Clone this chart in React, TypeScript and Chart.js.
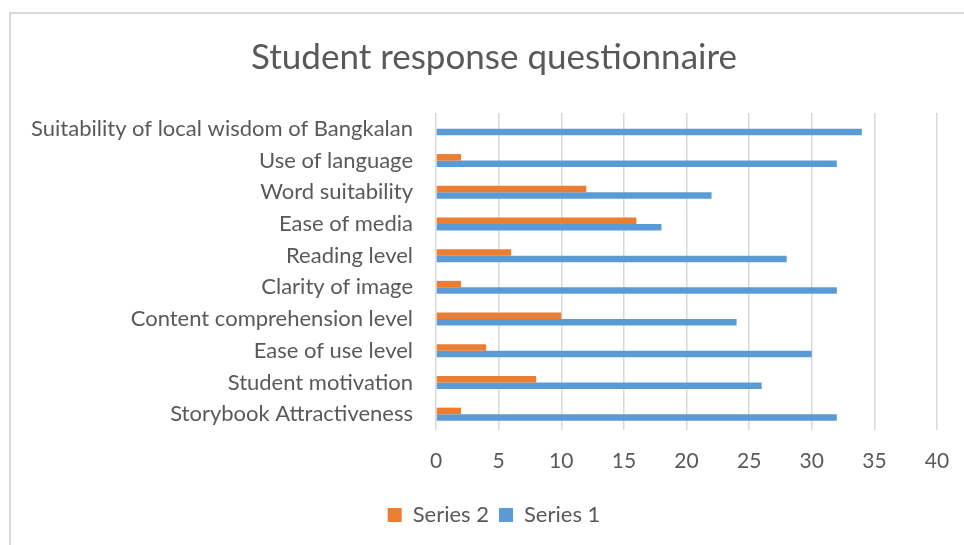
import React, { useEffect, useRef } from "react";
import { Chart, registerables } from "chart.js";

Chart.register(...registerables);

const categories = [
  "Suitability of local wisdom of Bangkalan",
  "Use of language",
  "Word suitability",
  "Ease of media",
  "Reading level",
  "Clarity of image",
  "Content comprehension level",
  "Ease of use level",
  "Student motivation",
  "Storybook Attractiveness",
];
const series1 = [34, 32, 22, 18, 28, 32, 24, 30, 26, 32];
const series2 = [0, 2, 12, 16, 6, 2, 10, 4, 8, 2];
const xTicks = [0, 5, 10, 15, 20, 25, 30, 35, 40];

const FONT = "Lato, 'Open Sans', sans-serif";
const TEXT = "#595959";

export default function App() {
  const ref = useRef<HTMLCanvasElement | null>(null);

  useEffect(() => {
    if (!ref.current) return;
    const chart = new Chart(ref.current, {
      type: "bar",
      data: {
        labels: categories,
        datasets: [
          {
            label: "Series 2",
            data: series2,
            backgroundColor: "#ED7D31",
            borderWidth: 0,
            categoryPercentage: 0.41,
            barPercentage: 1,
          },
          {
            label: "Series 1",
            data: series1,
            backgroundColor: "#5B9BD5",
            borderWidth: 0,
            categoryPercentage: 0.41,
            barPercentage: 1,
          },
        ],
      },
      options: {
        indexAxis: "y",
        animation: false,
        responsive: false,
        devicePixelRatio: 1,
        layout: { padding: { left: 24, right: 0, top: 0, bottom: 9 } },
        plugins: {
          title: {
            display: true,
            text: "Student response questionnaire",
            color: TEXT,
            font: { family: FONT, size: 35, weight: "normal" },
            padding: { top: 37, bottom: 34 },
          },
          legend: {
            position: "bottom",
            labels: {
              color: TEXT,
              font: { family: FONT, size: 22 },
              boxWidth: 14,
              boxHeight: 14,
              padding: 10,
            },
          },
          tooltip: { enabled: false },
        },
        scales: {
          x: {
            min: 0,
            max: 40,
            afterBuildTicks: (scale: any) => {
              scale.ticks = xTicks.map((v) => ({ value: v }));
            },
            afterFit: (scale: any) => {
              scale.height = 64;
              scale.paddingLeft = 0;
              scale.paddingRight = 27;
            },
            grid: {
              color: "#d9d9d9",
              lineWidth: 1.5,
              drawTicks: false,
            },
            border: { display: false },
            ticks: {
              color: TEXT,
              font: { family: FONT, size: 21 },
              padding: 19,
            },
          },
          y: {
            afterFit: (scale: any) => {
              scale.width = 412;
            },
            grid: { display: false, drawTicks: false },
            border: { display: false },
            ticks: {
              color: TEXT,
              font: { family: FONT, size: 22 },
              padding: 23,
              autoSkip: false,
            },
          },
        },
      },
    });
    return () => chart.destroy();
  }, []);

  return (
    <div
      style={{
        position: "absolute",
        left: 0,
        top: 0,
        width: 964,
        height: 545,
        overflow: "hidden",
        background: "#fff",
      }}
    >
      <div
        style={{
          position: "absolute",
          left: 9,
          top: 12,
          width: 1000,
          height: 600,
          border: "2px solid #d9d9d9",
          boxSizing: "border-box",
        }}
      />
      <canvas
        ref={ref}
        width={964}
        height={545}
        style={{ position: "absolute", left: 0, top: 0, width: 964, height: 545 }}
      />
    </div>
  );
}
